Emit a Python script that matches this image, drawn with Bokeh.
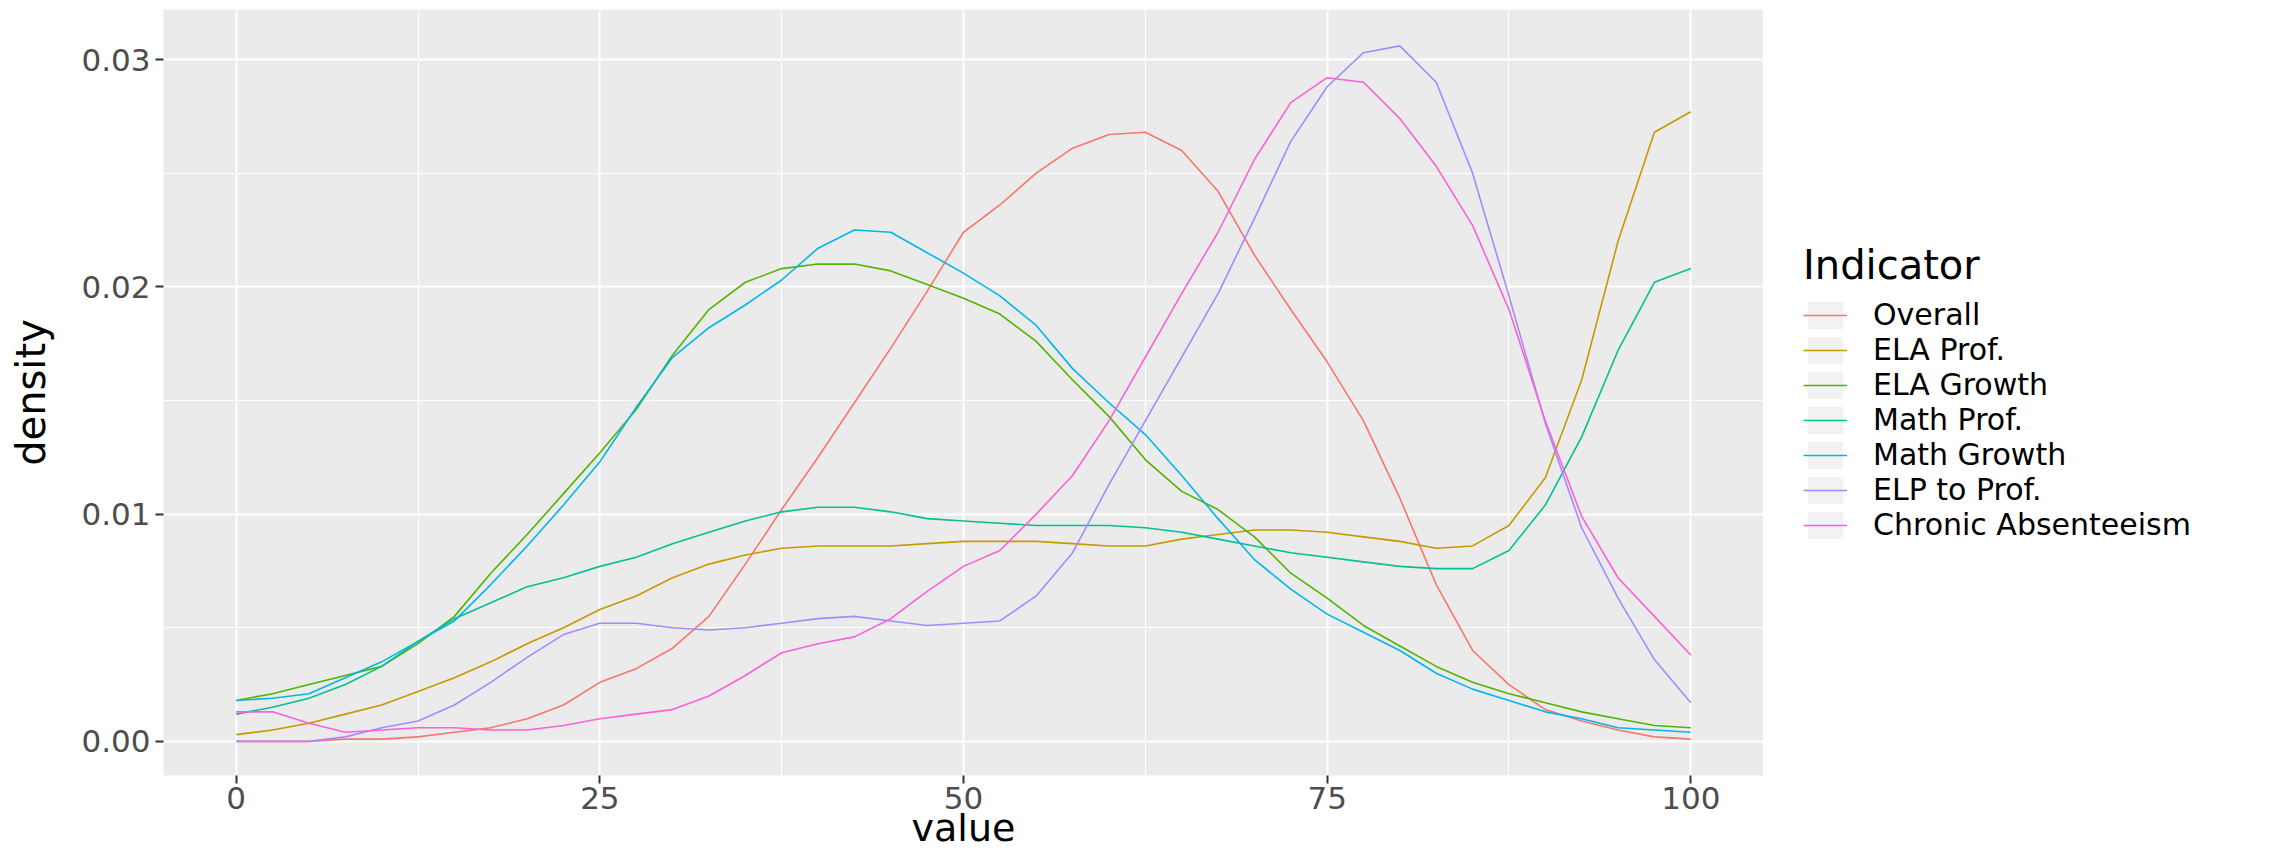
from bokeh.plotting import figure
from bokeh.layouts import row
from bokeh.models import FixedTicker, PrintfTickFormatter, Legend, LegendItem, Range1d
from bokeh.embed import file_html
from bokeh.resources import INLINE

# ---- data ----
x_values = [0, 2.5, 5, 7.5, 10, 12.5, 15, 17.5, 20, 22.5, 25, 27.5, 30, 32.5, 35, 37.5,
            40, 42.5, 45, 47.5, 50, 52.5, 55, 57.5, 60, 62.5, 65, 67.5, 70, 72.5, 75,
            77.5, 80, 82.5, 85, 87.5, 90, 92.5, 95, 97.5, 100]

overall = [0.0000, 0.0000, 0.0000, 0.0001, 0.0001, 0.0002, 0.0004, 0.0006, 0.0010, 0.0016,
           0.0026, 0.0032, 0.0041, 0.0055, 0.0078, 0.0102, 0.0125, 0.0149, 0.0173, 0.0198,
           0.0224, 0.0236, 0.0250, 0.0261, 0.0267, 0.0268, 0.0260, 0.0242, 0.0214, 0.0190,
           0.0167, 0.0141, 0.0107, 0.0069, 0.0040, 0.0025, 0.0014, 0.0009, 0.0005, 0.0002,
           0.0001]
ela_prof = [0.0003, 0.0005, 0.0008, 0.0012, 0.0016, 0.0022, 0.0028, 0.0035, 0.0043, 0.0050,
            0.0058, 0.0064, 0.0072, 0.0078, 0.0082, 0.0085, 0.0086, 0.0086, 0.0086, 0.0087,
            0.0088, 0.0088, 0.0088, 0.0087, 0.0086, 0.0086, 0.0089, 0.0091, 0.0093, 0.0093,
            0.0092, 0.0090, 0.0088, 0.0085, 0.0086, 0.0095, 0.0116, 0.0159, 0.0220, 0.0268,
            0.0277]
ela_growth = [0.0018, 0.0021, 0.0025, 0.0029, 0.0033, 0.0043, 0.0055, 0.0074, 0.0091, 0.0109,
              0.0127, 0.0146, 0.0170, 0.0190, 0.0202, 0.0208, 0.0210, 0.0210, 0.0207, 0.0201,
              0.0195, 0.0188, 0.0176, 0.0159, 0.0143, 0.0124, 0.0110, 0.0102, 0.0090, 0.0074,
              0.0063, 0.0051, 0.0042, 0.0033, 0.0026, 0.0021, 0.0017, 0.0013, 0.0010, 0.0007,
              0.0006]
math_prof = [0.0012, 0.0015, 0.0019, 0.0025, 0.0033, 0.0044, 0.0054, 0.0061, 0.0068, 0.0072,
             0.0077, 0.0081, 0.0087, 0.0092, 0.0097, 0.0101, 0.0103, 0.0103, 0.0101, 0.0098,
             0.0097, 0.0096, 0.0095, 0.0095, 0.0095, 0.0094, 0.0092, 0.0089, 0.0086, 0.0083,
             0.0081, 0.0079, 0.0077, 0.0076, 0.0076, 0.0084, 0.0104, 0.0134, 0.0172, 0.0202,
             0.0208]
math_growth = [0.0018, 0.0019, 0.0021, 0.0028, 0.0035, 0.0044, 0.0053, 0.0069, 0.0086, 0.0104,
               0.0123, 0.0147, 0.0169, 0.0182, 0.0192, 0.0203, 0.0217, 0.0225, 0.0224, 0.0215,
               0.0206, 0.0196, 0.0183, 0.0164, 0.0149, 0.0135, 0.0117, 0.0098, 0.0080, 0.0067,
               0.0056, 0.0048, 0.0040, 0.0030, 0.0023, 0.0018, 0.0013, 0.0010, 0.0006, 0.0005,
               0.0004]
elp_to_prof = [0.0000, 0.0000, 0.0000, 0.0002, 0.0006, 0.0009, 0.0016, 0.0026, 0.0037, 0.0047,
               0.0052, 0.0052, 0.0050, 0.0049, 0.0050, 0.0052, 0.0054, 0.0055, 0.0053, 0.0051,
               0.0052, 0.0053, 0.0064, 0.0083, 0.0113, 0.0141, 0.0169, 0.0197, 0.0230, 0.0264,
               0.0288, 0.0303, 0.0306, 0.0290, 0.0250, 0.0196, 0.0140, 0.0094, 0.0063, 0.0036,
               0.0017]
chronic_abs = [0.0013, 0.0013, 0.0008, 0.0004, 0.0005, 0.0006, 0.0006, 0.0005, 0.0005, 0.0007,
               0.0010, 0.0012, 0.0014, 0.0020, 0.0029, 0.0039, 0.0043, 0.0046, 0.0054, 0.0066,
               0.0077, 0.0084, 0.0100, 0.0117, 0.0141, 0.0169, 0.0197, 0.0224, 0.0256, 0.0281,
               0.0292, 0.0290, 0.0274, 0.0253, 0.0227, 0.0190, 0.0141, 0.0099, 0.0072, 0.0055,
               0.0038]

series_names = ["Overall", "ELA Prof.", "ELA Growth", "Math Prof.", "Math Growth",
                "ELP to Prof.", "Chronic Absenteeism"]
series_values = [overall, ela_prof, ela_growth, math_prof, math_growth, elp_to_prof, chronic_abs]
series_colors = ["#F8766D", "#C49A00", "#53B400", "#00C094", "#00B6EB", "#A58AFF", "#FB61D7"]

x_ticks = [0, 25, 50, 75, 100]
x_minor = [12.5, 37.5, 62.5, 87.5]
y_ticks = [0, 0.01, 0.02, 0.03]
y_minor = [0.005, 0.015, 0.025]

FONT = "DejaVu Sans"

# ---- main panel ----
p = figure(width=1763, height=852, output_backend="svg", toolbar_location=None,
           x_range=Range1d(-5, 105), y_range=Range1d(-0.0015, 0.0322),
           min_border_left=163, min_border_right=0, min_border_top=9, min_border_bottom=77,
           x_axis_label="value", y_axis_label="density")

p.background_fill_color = "#EBEBEB"
p.border_fill_color = "white"
p.outline_line_color = None

p.xaxis.ticker = FixedTicker(ticks=x_ticks, minor_ticks=x_minor)
p.yaxis.ticker = FixedTicker(ticks=y_ticks, minor_ticks=y_minor)
p.xaxis.formatter = PrintfTickFormatter(format="%d")
p.yaxis.formatter = PrintfTickFormatter(format="%.2f")

p.grid.grid_line_color = "white"
p.grid.grid_line_width = 2
p.grid.minor_grid_line_color = "white"
p.grid.minor_grid_line_width = 1

for ax in (p.xaxis, p.yaxis):
    ax.axis_line_color = None
    ax.major_tick_line_color = "#333333"
    ax.major_tick_line_width = 2
    ax.major_tick_out = 8
    ax.major_tick_in = 0
    ax.minor_tick_line_color = None
    ax.major_label_text_font = FONT
    ax.major_label_text_font_size = "31px"
    ax.major_label_text_color = "#4D4D4D"
    ax.axis_label_text_font = FONT
    ax.axis_label_text_font_style = "normal"
    ax.axis_label_text_color = "black"

p.yaxis.major_label_standoff = 5
p.yaxis.axis_label_text_font_size = "40px"
p.yaxis.axis_label_standoff = 24
p.xaxis.major_label_standoff = 3
p.xaxis.axis_label_text_font_size = "38px"
p.xaxis.axis_label_standoff = -6

for vals, col in zip(series_values, series_colors):
    p.line(x_values, vals, line_color=col, line_width=1.6)

# ---- legend area (separate figure to the right of the panel) ----
# its proxy renderers use the series data but fall outside this figure's view
lg = figure(width=517, height=852, output_backend="svg", toolbar_location=None,
            x_range=Range1d(200, 201), y_range=Range1d(0, 1),
            x_axis_location=None, y_axis_location=None, min_border=0)
lg.outline_line_color = None
lg.background_fill_color = "white"
lg.border_fill_color = "white"
lg.grid.visible = False

key_bg = lg.rect(x=x_values[:1], y=overall[:1], width=1, height=1,
                 fill_color="#F2F2F2", line_color=None)
items = []
for name, vals, col in zip(series_names, series_values, series_colors):
    r = lg.line(x_values, vals, line_color=col, line_width=1.6)
    items.append(LegendItem(label=name, renderers=[key_bg, r]))

legend = Legend(items=items, title="Indicator", location=(40, 233), orientation="vertical",
                glyph_width=44, glyph_height=34, spacing=0, label_standoff=26,
                padding=0, margin=0, border_line_color=None, background_fill_alpha=0,
                label_text_font=FONT, label_text_font_size="30px", label_text_color="black",
                title_text_font=FONT, title_text_font_size="40px", title_text_font_style="normal",
                title_text_color="black", title_standoff=9)
lg.add_layout(legend, "center")

layout = row(p, lg, spacing=0)

open("out.html", "w").write(file_html(layout, INLINE))
